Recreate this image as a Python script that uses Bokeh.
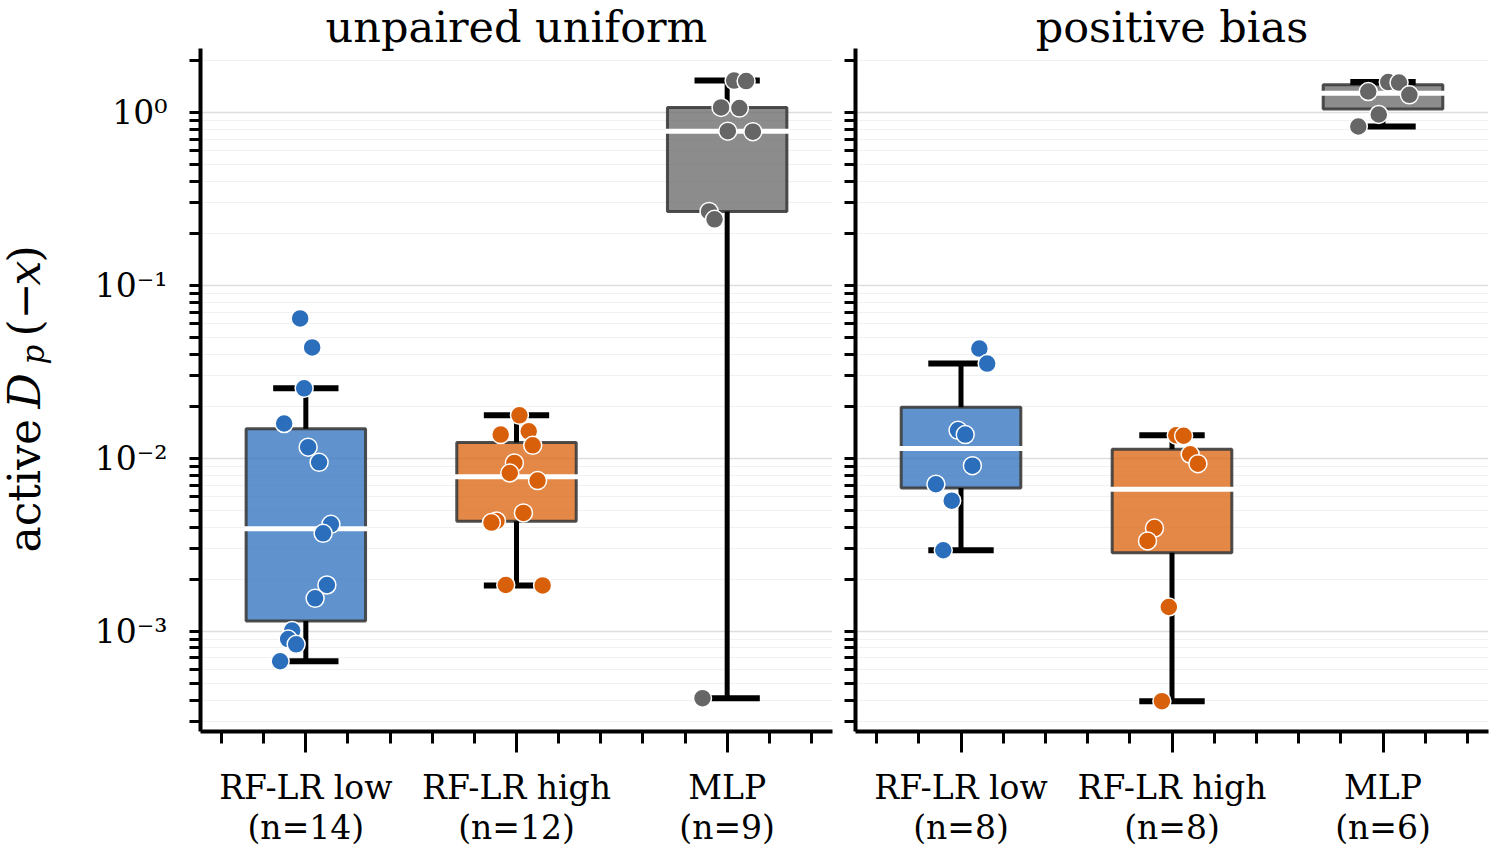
import numpy as np
from bokeh.plotting import figure
from bokeh.layouts import row
from bokeh.models import FixedTicker, CustomJSTickFormatter, Range1d
from bokeh.core.properties import value
from bokeh.embed import file_html
from bokeh.resources import INLINE

# ---------------------------------------------------------------- data
groups = ["RF-LR low", "RF-LR high", "MLP"]
panel_titles = ["unpaired uniform", "positive bias"]
group_colors = ["#2b6fbc", "#d9600a", "#666666"]

# active D_p(-x) per run, unpaired uniform condition
uniform_rf_low = [0.0644, 0.0438, 0.0254, 0.0159, 0.0116, 0.00948, 0.00415,
                  0.00368, 0.00185, 0.00155, 0.00101, 0.00090, 0.00084, 0.00067]
uniform_rf_high = [0.01773, 0.01371, 0.01432, 0.01189, 0.0094, 0.00822,
                   0.00743, 0.00483, 0.00434, 0.00425, 0.00185, 0.00184]
uniform_mlp = [1.53, 1.52, 1.07, 1.06, 0.78, 0.775, 0.268, 0.241, 0.00041]

# active D_p(-x) per run, positive bias condition
bias_rf_low = [0.0431, 0.0353, 0.01452, 0.01371, 0.00907, 0.00708, 0.00569, 0.00294]
bias_rf_high = [0.0136, 0.0135, 0.01055, 0.00931, 0.00395, 0.00333, 0.00138, 0.000394]
bias_mlp = [1.322, 1.50, 1.49, 1.265, 0.974, 0.830]

# horizontal strip offsets of each run (category units)
uniform_rf_low_offset = [-0.027, 0.030, -0.008, -0.103, 0.011, 0.063, 0.119,
                         0.082, 0.100, 0.044, -0.065, -0.084, -0.046, -0.122]
uniform_rf_high_offset = [0.014, -0.075, 0.058, 0.077, -0.010, -0.032, 0.100,
                          0.033, -0.095, -0.119, -0.051, 0.124]
uniform_mlp_offset = [0.033, 0.090, -0.029, 0.058, 0.003, 0.122, -0.086, -0.060, -0.117]
bias_rf_low_offset = [0.087, 0.124, -0.014, 0.020, 0.054, -0.119, -0.044, -0.084]
bias_rf_high_offset = [0.020, 0.055, 0.086, 0.123, -0.083, -0.116, -0.015, -0.048]
bias_mlp_offset = [-0.070, 0.025, 0.076, 0.125, -0.020, -0.117]

y_major = [1e-3, 1e-2, 1e-1, 1e0]

SERIF = "DejaVu Serif"
Y_LO, Y_HI = 2.63e-4, 2.345
BOX_W = 0.567
CAP_W = 0.31

W, H = 1494, 850
TOP = 48              # space above the plotting areas (titles)
YLABEL_W = 70         # strip holding the y-axis label
BOTTOM = 119

x_major = [0, 1, 2]
x_minor = [-0.4, -0.2, 0.2, 0.4, 0.6, 0.8, 1.2, 1.4, 1.6, 1.8, 2.2, 2.4]
y_minor = [m * 10.0 ** e for e in range(-4, 1) for m in range(2, 10)
           if Y_LO <= m * 10.0 ** e <= Y_HI]


def box_stats(values):
    v = np.asarray(values, dtype=float)
    q1, med, q3 = np.percentile(v, [25, 50, 75])
    iqr = q3 - q1
    lo = v[v >= q1 - 1.5 * iqr].min()
    hi = v[v <= q3 + 1.5 * iqr].max()
    return q1, med, q3, lo, hi


def make_panel(title, series, offsets, width, border_left, border_right, show_ylabels):
    p = figure(width=width, height=H,
               x_range=Range1d(-0.5, 2.5), y_range=Range1d(Y_LO, Y_HI),
               y_axis_type="log", output_backend="svg", toolbar_location=None,
               min_border_left=border_left, min_border_right=border_right,
               min_border_top=TOP, min_border_bottom=BOTTOM)
    p.outline_line_color = None
    p.background_fill_color = "white"
    p.border_fill_color = "white"

    p.title.text = title
    p.title.align = "center"
    p.title.text_font = SERIF
    p.title.text_font_size = "43px"
    p.title.text_font_style = "normal"
    p.title.text_color = "black"
    p.title.standoff = -6

    # x axis: categories with minor ticks in between
    xa = p.xaxis[0]
    xa.ticker = FixedTicker(ticks=x_major, minor_ticks=x_minor)
    counts = [len(s) for s in series]
    xa.major_label_overrides = {i: f"{g}\n(n={n})" for i, (g, n) in enumerate(zip(groups, counts))}
    xa.major_tick_out = 21
    xa.major_tick_in = 0
    xa.minor_tick_out = 12
    xa.minor_tick_in = 0
    xa.major_tick_line_width = 3
    xa.minor_tick_line_width = 3
    xa.axis_line_width = 4
    xa.major_label_text_font = SERIF
    xa.major_label_text_font_size = "33px"
    xa.major_label_text_line_height = 1.05
    xa.major_label_text_color = "black"
    xa.major_label_standoff = 15

    # y axis: log decades
    ya = p.yaxis[0]
    ya.ticker = FixedTicker(ticks=y_major, minor_ticks=y_minor)
    ya.major_tick_out = 11
    ya.major_tick_in = 0
    ya.minor_tick_out = 11
    ya.minor_tick_in = 0
    ya.major_tick_line_width = 3
    ya.minor_tick_line_width = 3
    ya.axis_line_width = 4
    ya.major_label_text_font = SERIF
    ya.major_label_text_color = "black"
    if show_ylabels:
        ya.formatter = CustomJSTickFormatter(code="""
            const sup = {"0": "\u2070", "1": "\u00b9", "2": "\u00b2", "3": "\u00b3",
                         "4": "\u2074", "5": "\u2075", "-": "\u207b"};
            const e = String(Math.round(Math.log10(tick)));
            let s = "";
            for (const c of e) { s += sup[c]; }
            return "10" + s;
        """)
        ya.major_label_text_font_size = "33px"
        ya.major_label_standoff = 22
    else:
        ya.formatter = CustomJSTickFormatter(code="return '';")
        ya.major_label_text_font_size = "0px"
        ya.major_label_standoff = 0

    p.xgrid.visible = False
    p.ygrid.grid_line_color = "#dddddd"
    p.ygrid.grid_line_width = 1.5
    p.ygrid.minor_grid_line_color = "#f1f1f1"
    p.ygrid.minor_grid_line_width = 1

    for i, (vals, offs, color) in enumerate(zip(series, offsets, group_colors)):
        q1, med, q3, lo, hi = box_stats(vals)
        p.quad(left=[i - BOX_W / 2], right=[i + BOX_W / 2], bottom=[q1], top=[q3],
               fill_color=color, fill_alpha=0.75,
               line_color="#3c3c3c", line_alpha=0.9, line_width=3)
        # whiskers
        p.segment(x0=[i, i], x1=[i, i], y0=[q3, q1], y1=[hi, lo],
                  line_color="black", line_width=5)
        # caps
        p.segment(x0=[i - CAP_W / 2] * 2, x1=[i + CAP_W / 2] * 2, y0=[hi, lo], y1=[hi, lo],
                  line_color="black", line_width=6)
        # median
        p.segment(x0=[i - BOX_W / 2 - 0.01], x1=[i + BOX_W / 2 + 0.01], y0=[med], y1=[med],
                  line_color="white", line_width=5)
        # individual runs
        p.scatter(x=[i + o for o in offs], y=vals, size=18, fill_color=color,
                  line_color="white", line_width=1.5)
    return p


left = make_panel(panel_titles[0],
                  [uniform_rf_low, uniform_rf_high, uniform_mlp],
                  [uniform_rf_low_offset, uniform_rf_high_offset, uniform_mlp_offset],
                  width=843 - YLABEL_W, border_left=200 - YLABEL_W, border_right=11,
                  show_ylabels=True)
right = make_panel(panel_titles[1],
                   [bias_rf_low, bias_rf_high, bias_mlp],
                   [bias_rf_low_offset, bias_rf_high_offset, bias_mlp_offset],
                   width=651, border_left=12, border_right=6, show_ylabels=False)

# y-axis label "active D_p(-x)", reading upward; strip coordinates are
# pixels measured up from the bottom of the page
ylab = figure(width=YLABEL_W, height=H, x_range=Range1d(0, YLABEL_W),
              y_range=Range1d(BOTTOM, H - TOP), x_axis_type=None, y_axis_type=None,
              output_backend="svg", toolbar_location=None, min_border=0,
              min_border_left=0, min_border_right=0,
              min_border_top=TOP, min_border_bottom=BOTTOM)
ylab.outline_line_color = None
ylab.background_fill_color = "white"
ylab.border_fill_color = "white"
ylab.grid.visible = False

base_x = 24
ylabel_parts = [
    ("active", "normal", "44px", base_x, 552),
    ("D", "italic", "44px", base_x, 408),
    ("p", "italic", "31px", base_x + 8, 364),
    ("(\u2212", "normal", "44px", base_x, 336),
    ("x", "italic", "44px", base_x, 285),
    (")", "normal", "44px", base_x, 262),
]
for text, style, size, bx, cy in ylabel_parts:
    ylab.text(x=[bx], y=[H - cy], text=[text], text_font=value(SERIF),
              text_font_style=style, text_font_size=size, angle=np.pi / 2,
              text_align="left", text_baseline="alphabetic", text_color="black")

layout = row(ylab, left, right)
open("out.html", "w").write(file_html(layout, INLINE))
